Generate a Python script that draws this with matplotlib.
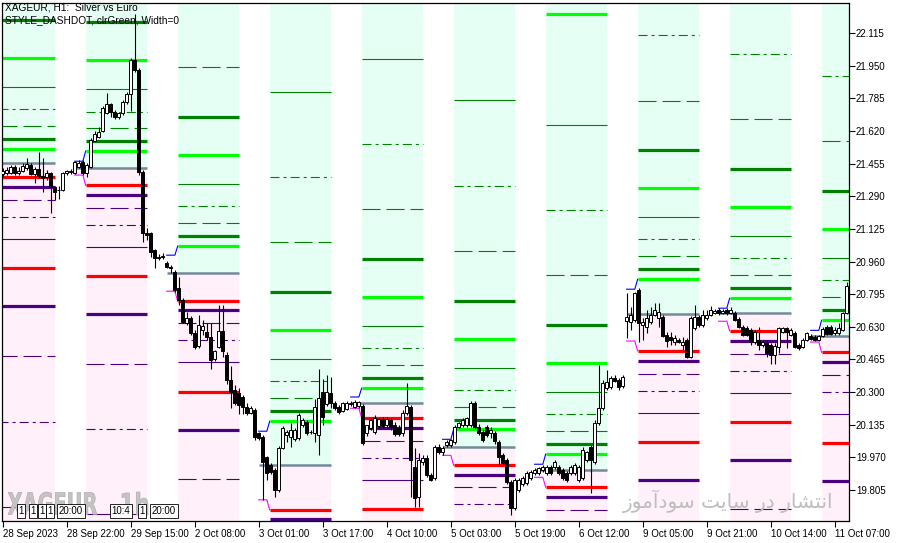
import numpy as np
import matplotlib.pyplot as plt
from matplotlib.patches import Rectangle, PathPatch
from matplotlib.textpath import TextPath
from matplotlib.font_manager import FontProperties
from matplotlib.transforms import Affine2D

plt.rcParams['lines.scale_dashes'] = False
plt.rcParams['font.family'] = ['Liberation Sans', 'DejaVu Sans']

nan = np.nan

# hourly candles, XAGEUR H1 (28 Sep 06:00 .. 11 Oct 10:00)
opens = [
    21.403, 21.408, 21.408, 21.438, 21.408, 21.418, 21.433, 21.448, 21.403, 21.428,
    21.393, 21.387, 21.408, 21.337, 21.322, 21.322, 21.408, 21.413, 21.408, 21.438,
    21.463, 21.408, 21.438, 21.569, 21.589, 21.620, 21.711, 21.757, 21.716, 21.690,
    21.711, 21.767, 21.807, 21.979, 21.928, 21.413, 21.104, 21.104, 21.018, 20.983,
    20.983, 20.953, 20.932, 20.907, 20.826, 20.766, 20.649, 20.674, 20.599, 20.533,
    20.614, 20.604, 20.578, 20.467, 20.528, 20.609, 20.488, 20.361, 20.311, 20.296,
    20.275, 20.225, 20.194, 20.209, 20.093, 20.073, 19.972, 19.932, 19.906, 19.805,
    20.017, 20.083, 20.073, 20.063, 20.068, 20.133, 20.149, 20.098, 20.093, 20.083,
    20.301, 20.240, 20.296, 20.245, 20.225, 20.204, 20.215, 20.240, 20.225, 20.230,
    20.230, 20.093, 20.118, 20.098, 20.128, 20.164, 20.133, 20.159, 20.133, 20.118,
    20.093, 20.194, 20.225, 19.922, 19.770, 19.947, 19.967, 19.881, 19.866, 20.022,
    19.997, 20.032, 20.032, 20.048, 20.123, 20.133, 20.133, 20.133, 20.245, 20.123,
    20.098, 20.123, 20.093, 20.093, 20.048, 19.982, 19.957, 19.846, 19.714, 19.805,
    19.836, 19.841, 19.866, 19.891, 19.891, 19.906, 19.891, 19.921, 19.921, 19.921,
    19.906, 19.891, 19.891, 19.891, 19.856, 19.866, 19.957, 20.022, 19.947, 20.144,
    20.220, 20.321, 20.326, 20.371, 20.361, 20.331, 20.659, 20.654, 20.664, 20.816,
    20.639, 20.629, 20.654, 20.690, 20.674, 20.679, 20.588, 20.578, 20.553, 20.563,
    20.538, 20.563, 20.478, 20.624, 20.679, 20.639, 20.674, 20.690, 20.700, 20.715,
    20.700, 20.715, 20.700, 20.700, 20.669, 20.629, 20.624, 20.614, 20.553, 20.563,
    20.538, 20.548, 20.538, 20.488, 20.528, 20.604, 20.624, 20.588, 20.599, 20.538,
    20.528, 20.563, 20.583, 20.578, 20.563, 20.583, 20.629, 20.629, 20.599, 20.599,
    20.614, 20.700,
]
highs = [
    21.433, 21.438, 21.448, 21.448, 21.438, 21.458, 21.484, 21.458, 21.438, 21.514,
    21.484, 21.423, 21.413, 21.342, 21.342, 21.413, 21.423, 21.428, 21.468, 21.473,
    21.473, 21.458, 21.584, 21.620, 21.640, 21.746, 21.812, 21.762, 21.726, 21.716,
    21.777, 21.817, 21.989, 22.211, 21.938, 21.423, 21.129, 21.109, 21.023, 20.998,
    21.003, 20.963, 20.943, 20.917, 20.882, 20.776, 20.705, 20.684, 20.614, 20.690,
    20.664, 20.649, 20.649, 20.513, 20.741, 20.741, 20.503, 20.432, 20.336, 20.321,
    20.285, 20.245, 20.230, 20.220, 20.098, 20.083, 19.977, 19.942, 19.916, 20.027,
    20.128, 20.108, 20.144, 20.118, 20.194, 20.169, 20.159, 20.108, 20.265, 20.417,
    20.366, 20.387, 20.376, 20.255, 20.235, 20.250, 20.255, 20.255, 20.260, 20.255,
    20.240, 20.133, 20.169, 20.184, 20.169, 20.174, 20.174, 20.169, 20.149, 20.133,
    20.209, 20.346, 20.235, 20.017, 19.992, 19.982, 19.982, 19.891, 20.032, 20.037,
    20.027, 20.058, 20.063, 20.133, 20.149, 20.169, 20.174, 20.255, 20.255, 20.139,
    20.113, 20.133, 20.123, 20.103, 20.058, 19.992, 19.967, 19.856, 19.866, 19.866,
    19.876, 19.901, 19.906, 19.916, 19.921, 19.932, 19.932, 19.932, 19.957, 19.932,
    19.916, 19.901, 19.932, 19.942, 19.932, 20.022, 20.002, 20.032, 20.159, 20.437,
    20.361, 20.412, 20.382, 20.387, 20.371, 20.387, 20.801, 20.730, 20.806, 20.826,
    20.674, 20.715, 20.730, 20.751, 20.751, 20.690, 20.604, 20.604, 20.588, 20.573,
    20.578, 20.573, 20.684, 20.741, 20.690, 20.715, 20.715, 20.735, 20.720, 20.725,
    20.720, 20.725, 20.730, 20.710, 20.679, 20.639, 20.634, 20.624, 20.614, 20.629,
    20.563, 20.563, 20.548, 20.548, 20.629, 20.629, 20.629, 20.624, 20.609, 20.548,
    20.573, 20.604, 20.594, 20.588, 20.588, 20.629, 20.639, 20.639, 20.629, 20.649,
    20.705, 20.857,
]
lows = [
    21.393, 21.398, 21.403, 21.398, 21.398, 21.413, 21.423, 21.398, 21.357, 21.382,
    21.312, 21.372, 21.205, 21.271, 21.276, 21.317, 21.398, 21.403, 21.403, 21.433,
    21.398, 21.387, 21.433, 21.564, 21.584, 21.615, 21.706, 21.690, 21.680, 21.680,
    21.701, 21.757, 21.721, 21.918, 21.398, 21.059, 21.069, 20.983, 20.927, 20.968,
    20.973, 20.927, 20.902, 20.806, 20.741, 20.649, 20.639, 20.589, 20.518, 20.523,
    20.589, 20.563, 20.417, 20.457, 20.523, 20.478, 20.341, 20.220, 20.235, 20.189,
    20.189, 20.184, 20.189, 20.058, 20.058, 19.755, 19.856, 19.886, 19.770, 19.795,
    20.012, 20.048, 20.022, 20.053, 20.058, 20.123, 20.083, 20.088, 20.048, 19.982,
    20.133, 20.230, 20.220, 20.209, 20.189, 20.199, 20.209, 20.230, 20.220, 20.220,
    20.032, 20.078, 20.108, 20.088, 20.118, 20.118, 20.123, 20.108, 20.078, 20.078,
    20.078, 20.184, 19.770, 19.719, 19.719, 19.932, 19.871, 19.851, 19.856, 19.987,
    19.982, 20.022, 20.022, 20.037, 20.118, 20.123, 20.123, 20.123, 20.113, 20.083,
    20.048, 20.073, 20.068, 20.037, 19.932, 19.932, 19.836, 19.679, 19.704, 19.795,
    19.826, 19.831, 19.856, 19.881, 19.881, 19.896, 19.881, 19.881, 19.911, 19.881,
    19.856, 19.846, 19.881, 19.881, 19.846, 19.856, 19.947, 19.790, 19.937, 20.133,
    20.209, 20.311, 20.316, 20.351, 20.311, 20.321, 20.573, 20.614, 20.654, 20.553,
    20.563, 20.599, 20.644, 20.684, 20.629, 20.578, 20.528, 20.538, 20.538, 20.548,
    20.513, 20.472, 20.472, 20.614, 20.629, 20.629, 20.664, 20.684, 20.695, 20.690,
    20.695, 20.690, 20.695, 20.659, 20.624, 20.583, 20.583, 20.538, 20.543, 20.513,
    20.528, 20.478, 20.442, 20.442, 20.498, 20.599, 20.523, 20.583, 20.523, 20.513,
    20.523, 20.558, 20.563, 20.558, 20.558, 20.578, 20.589, 20.589, 20.589, 20.589,
    20.609, 20.695,
]
closes = [
    21.418, 21.423, 21.438, 21.408, 21.418, 21.443, 21.453, 21.403, 21.428, 21.393,
    21.382, 21.408, 21.337, 21.312, 21.320, 21.408, 21.418, 21.418, 21.463, 21.458,
    21.408, 21.448, 21.574, 21.605, 21.615, 21.736, 21.757, 21.716, 21.690, 21.711,
    21.767, 21.807, 21.979, 21.928, 21.413, 21.104, 21.094, 21.008, 20.978, 20.980,
    20.988, 20.932, 20.927, 20.816, 20.766, 20.654, 20.674, 20.599, 20.528, 20.639,
    20.634, 20.578, 20.462, 20.508, 20.609, 20.508, 20.361, 20.301, 20.245, 20.235,
    20.225, 20.194, 20.220, 20.073, 20.068, 19.947, 19.891, 19.896, 19.805, 20.017,
    20.118, 20.098, 20.108, 20.108, 20.184, 20.159, 20.093, 20.096, 20.225, 20.270,
    20.174, 20.301, 20.245, 20.220, 20.199, 20.245, 20.245, 20.243, 20.250, 20.250,
    20.043, 20.133, 20.159, 20.169, 20.164, 20.128, 20.164, 20.123, 20.088, 20.088,
    20.194, 20.230, 19.957, 19.765, 19.957, 19.967, 19.881, 19.856, 20.022, 19.997,
    20.017, 20.048, 20.058, 20.123, 20.144, 20.159, 20.169, 20.245, 20.123, 20.093,
    20.058, 20.083, 20.108, 20.053, 19.972, 19.942, 19.846, 19.714, 19.856, 19.856,
    19.866, 19.891, 19.896, 19.906, 19.916, 19.921, 19.921, 19.891, 19.947, 19.891,
    19.866, 19.856, 19.921, 19.932, 19.921, 20.007, 19.997, 19.957, 20.144, 20.220,
    20.346, 20.351, 20.371, 20.356, 20.326, 20.376, 20.679, 20.690, 20.801, 20.649,
    20.654, 20.674, 20.690, 20.715, 20.705, 20.583, 20.558, 20.563, 20.573, 20.553,
    20.553, 20.478, 20.674, 20.679, 20.639, 20.690, 20.690, 20.715, 20.710, 20.700,
    20.710, 20.700, 20.715, 20.664, 20.629, 20.588, 20.588, 20.553, 20.604, 20.538,
    20.553, 20.498, 20.488, 20.533, 20.624, 20.624, 20.604, 20.614, 20.528, 20.523,
    20.563, 20.599, 20.568, 20.563, 20.583, 20.619, 20.594, 20.594, 20.614, 20.624,
    20.700, 20.836,
]

# daily levels, one value per trading day (nan = outside the visible range)
pivot = [21.460, 21.433, 20.903, 19.933, 20.246, 20.024, 19.908, 20.693, 20.698, 20.584]
r1  = [21.529, 21.519, 21.038, 20.152, 20.319, 20.112, 19.986, 20.870, 20.774, 20.663]
r1b = [21.579, 21.569, 21.089, 20.203, 20.370, 20.157, 20.036, 20.921, 20.825, 20.713]
r1c = [21.645, 21.635, 21.155, 20.270, 20.435, 20.225, 20.102, 20.986, 20.890, 20.779]
r1d = [21.731, 21.716, 21.241, 20.355, 20.521, 20.311, 20.188, 21.072, 20.976, 20.865]
r1e = [21.842, 21.832, 21.352, 20.466, 20.633, 20.420, 20.299, 21.184, 21.088, 20.976]
r2  = [21.989, 21.979, 21.498, 20.612, 20.781, 20.567, 20.446, 21.330, 21.234, 21.123]
r2b = [22.181, 22.171, 21.691, 20.804, 20.971, 20.759, 20.638, 21.522, 21.426, 21.315]
r2c = [nan, nan, 21.943, 21.057, 21.224, 21.013, 20.890, 21.771, 21.679, 21.568]
r2d = [nan, nan, nan, 21.386, 21.553, 21.342, 21.219, 22.104, 22.008, 21.896]
r2e = [nan, nan, nan, 21.815, 21.982, 21.777, 21.649, nan, nan, nan]
r3  = [nan, nan, nan, nan, nan, nan, 22.210, nan, nan, nan]
s1  = [21.386, 21.345, 20.759, 19.704, 20.169, 19.930, 19.819, 20.508, 20.609, 20.501]
s1b = [21.335, 21.295, 20.713, 19.658, 20.117, 19.879, 19.768, 20.457, 20.558, 20.451]
s1c = [21.270, 21.229, 20.649, nan, 20.051, 19.819, 19.704, 20.390, 20.491, 20.385]
s1d = [21.184, 21.143, 20.562, nan, 19.965, 19.733, nan, 20.304, 20.405, 20.299]
s1e = [21.072, 21.032, 20.451, nan, 19.854, nan, nan, 20.193, 20.294, 20.188]
s2  = [20.926, 20.885, 20.299, nan, 19.709, nan, nan, 20.046, 20.147, 20.041]
s2b = [20.734, 20.693, 20.107, nan, nan, nan, nan, 19.854, 19.955, 19.849]
s2c = [20.481, 20.440, 19.859, nan, nan, nan, nan, nan, 19.708, nan]
s2d = [20.150, 20.112, nan, nan, nan, nan, nan, nan, nan, nan]
s2e = [19.721, 19.685, nan, nan, nan, nan, nan, nan, nan, nan]
early_high = [nan, 21.467, 20.992, 20.102, 20.275, 20.061, 19.935, 20.820, 20.724, 20.612]
early_low  = [nan, 21.397, 20.810, 19.755, 20.218, 19.980, 19.869, 20.558, 20.658, 20.553]

tick_bars = [0, 16, 32, 48, 64, 80, 96, 112, 128, 144, 160, 176, 192, 208]
tick_labels = ['28 Sep 2023', '28 Sep 22:00', '29 Sep 15:00', '2 Oct 08:00',
               '3 Oct 01:00', '3 Oct 17:00', '4 Oct 10:00', '5 Oct 03:00',
               '5 Oct 19:00', '6 Oct 12:00', '9 Oct 05:00', '9 Oct 21:00',
               '10 Oct 14:00', '11 Oct 07:00']
price_ticks = [22.115, 21.950, 21.785, 21.620, 21.455, 21.290, 21.125, 20.960,
               20.795, 20.630, 20.465, 20.300, 20.135, 19.970, 19.805]
# time labels of chart objects parked at the bottom-left
object_labels = ['1', '1', '1', '1', '20:00', '10:4', '1', '20:00']

W, H = 897, 543
fig = plt.figure(figsize=(W / 100, H / 100), dpi=100)
ax = fig.add_axes([2 / W, 22 / H, 847 / W, 518 / H])
ymin, ymax = 19.648, 22.267
ax.set_xlim(-0.175, 211.6)
ax.set_ylim(ymin, ymax)

DASH = (0, (13, 4.3))
DASHDOT = (0, (6.5, 2.9, 2.2, 2.9))
GREEN, LIME, RED, INDIGO = '#008000', '#00FF00', '#FF0000', '#4B0082'
level_styles = [
    (r1, LIME, 2.3, '-'), (r1b, GREEN, 2.3, '-'), (r1c, GREEN, 0.8, DASH),
    (r1d, GREEN, 0.8, DASHDOT), (r1e, GREEN, 0.8, '-'),
    (r2, LIME, 2.3, '-'), (r2b, GREEN, 2.3, '-'), (r2c, GREEN, 0.8, DASH),
    (r2d, GREEN, 0.8, DASHDOT), (r2e, GREEN, 0.8, '-'), (r3, LIME, 2.3, '-'),
    (s1, RED, 2.3, '-'), (s1b, INDIGO, 2.3, '-'), (s1c, INDIGO, 0.8, DASH),
    (s1d, INDIGO, 0.8, DASHDOT), (s1e, INDIGO, 0.8, '-'),
    (s2, RED, 2.3, '-'), (s2b, INDIGO, 2.3, '-'), (s2c, INDIGO, 0.8, DASH),
    (s2d, INDIGO, 0.8, DASHDOT), (s2e, INDIGO, 0.8, '-'),
]

for k in range(len(pivot)):
    ds = -5 + 23 * k          # first bar of the day
    s, e = ds + 2.75, ds + 18.1
    ax.add_patch(Rectangle((s, pivot[k]), e - s, ymax - pivot[k] + 1,
                           facecolor='#E6FFF5', edgecolor='none', zorder=0))
    ax.add_patch(Rectangle((s, ymin - 1), e - s, pivot[k] - ymin + 1,
                           facecolor='#FFF0FA', edgecolor='none', zorder=0))
    for vals, col, lw, ls in level_styles:
        if not np.isnan(vals[k]):
            ax.hlines(vals[k], s, e, colors=col, linewidth=lw, linestyles=[ls],
                      zorder=2)
    ax.hlines(pivot[k], ds, e, colors='#778899', linewidth=1.8, zorder=2)
    if not np.isnan(early_high[k]):
        ax.plot([ds, ds + 2.05, s], [early_high[k], early_high[k], r1[k]],
                color='#0000FF', lw=0.8, zorder=3)
        ax.plot([ds, ds + 2.05, s], [early_low[k], early_low[k], s1[k]],
                color='#FF00FF', lw=0.8, zorder=3)

# candles
x = np.arange(len(closes))
o, h, l, c = map(np.array, (opens, highs, lows, closes))
ax.vlines(x, l, h, colors='black', linewidth=0.8, zorder=5)
up = c >= o
ax.bar(x[up], (c - o)[up], bottom=o[up], width=0.72, facecolor='white',
       edgecolor='black', linewidth=0.7, zorder=6)
ax.bar(x[~up], (o - c)[~up], bottom=c[~up], width=0.72, facecolor='black',
       edgecolor='black', linewidth=0.7, zorder=6)

# axes
ax.yaxis.tick_right()
ax.set_yticks(price_ticks)
ax.set_yticklabels([f'{v:.3f}' for v in price_ticks])
ax.set_xticks(tick_bars)
ax.set_xticklabels(tick_labels, ha='left')
ax.tick_params(axis='y', direction='out', length=4, width=0.8, labelsize=7,
               pad=1, colors='black')
ax.tick_params(axis='x', direction='out', length=4, width=0.8, labelsize=7,
               pad=2)
for sp in ax.spines.values():
    sp.set_linewidth(0.9)
    sp.set_color('black')

# texts
fig.text(5 / W, 1 - 3 / H, 'XAGEUR, H1:  Silver vs Euro', fontsize=7.3,
         va='top', ha='left', zorder=1)
fig.text(5 / W, 1 - 15 / H, 'STYLE_DASHDOT, clrGreen, Width=0', fontsize=7.3,
         va='top', ha='left', zorder=1)


def stretched_text(txt, x0, y_top, w, h, color):
    # draw text squeezed into a w x h pixel box (tall, narrow watermark font)
    tp = TextPath((0, 0), txt, size=10,
                  prop=FontProperties(family='DejaVu Sans', weight='bold'))
    bb = tp.get_extents()
    tr = (Affine2D().translate(-bb.x0, -bb.y0)
          .scale(w / bb.width, h / bb.height)
          .translate(x0, H - y_top - h))
    fig.add_artist(PathPatch(tp, transform=tr, facecolor=color,
                             edgecolor='#A8A8A8', lw=0.4, zorder=20))


stretched_text('XAGEUR', 8, 492, 89, 23, '#C4C4C4')
stretched_text('1h', 122, 492, 26, 23, '#C4C4C4')

for t, px in zip(object_labels, [21, 33, 42, 50, 71, 121, 142, 164]):
    fig.text(px / W, 1 - 511 / H, t, fontsize=7, ha='center', va='center',
             zorder=21, bbox=dict(boxstyle='square,pad=0.18', fc='white',
                                  ec='black', lw=0.6))

persian = ('\uFEAF\uFEEE\uFEE3\uFE81\uFEA9\uFEEE\uFEB3 '
           '\uFE96\uFBFE\uFE8E\uFEB3 \uFEAD\uFEA9 '
           '\uFEAD\uFE8E\uFEB8\uFE98\uFEE7\uFE8D')
fig.text(833 / W, 1 - 513 / H, persian, fontsize=14.5, color='#BEBEBE',
         ha='right', va='bottom', zorder=20, family=['DejaVu Sans', 'Noto Sans'])

fig.savefig('out.png', dpi=100)
